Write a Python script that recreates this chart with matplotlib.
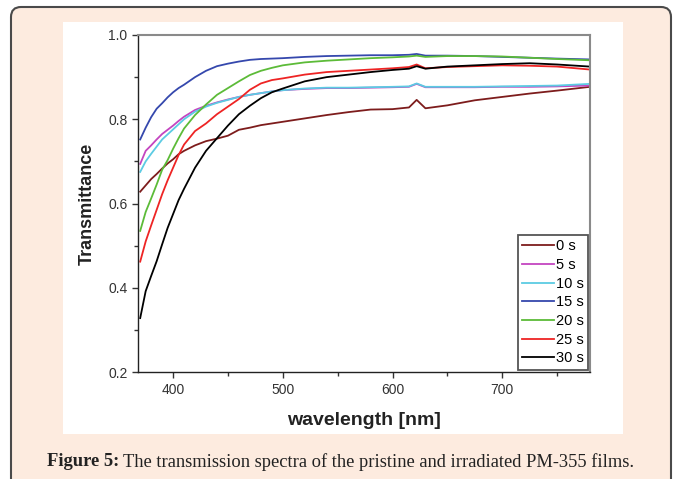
import matplotlib
matplotlib.use("Agg")
import matplotlib.pyplot as plt
from matplotlib.patches import FancyBboxPatch, Rectangle
from matplotlib.transforms import IdentityTransform
from matplotlib.ticker import MultipleLocator

# ---- data ----
wavelength = [370, 375, 380, 385, 390, 395, 400, 405, 410, 420, 430, 440, 450, 460, 470,
              480, 490, 500, 520, 540, 560, 580, 600, 615, 622, 630, 650, 675, 700, 725, 750, 780]

t0 = [0.628, 0.643, 0.658, 0.670, 0.683, 0.695, 0.705, 0.717, 0.725, 0.738, 0.748, 0.754, 0.761, 0.775, 0.780,
      0.786, 0.790, 0.794, 0.802, 0.810, 0.817, 0.823, 0.824, 0.828, 0.846, 0.826, 0.833, 0.845, 0.853, 0.861, 0.868, 0.877]
t5 = [0.694, 0.725, 0.738, 0.752, 0.765, 0.775, 0.785, 0.796, 0.806, 0.822, 0.832, 0.840, 0.847, 0.853, 0.858,
      0.862, 0.866, 0.869, 0.872, 0.874, 0.874, 0.875, 0.876, 0.877, 0.884, 0.876, 0.876, 0.876, 0.877, 0.877, 0.878, 0.880]
t10 = [0.675, 0.700, 0.718, 0.735, 0.752, 0.764, 0.776, 0.788, 0.800, 0.818, 0.830, 0.839, 0.846, 0.853, 0.858,
       0.862, 0.866, 0.869, 0.873, 0.875, 0.875, 0.876, 0.877, 0.878, 0.885, 0.877, 0.877, 0.877, 0.878, 0.879, 0.880, 0.884]
t15 = [0.752, 0.780, 0.805, 0.825, 0.838, 0.852, 0.864, 0.874, 0.882, 0.900, 0.915, 0.926, 0.932, 0.937, 0.941,
       0.943, 0.944, 0.945, 0.948, 0.950, 0.951, 0.952, 0.952, 0.953, 0.955, 0.951, 0.951, 0.950, 0.948, 0.946, 0.944, 0.942]
t20 = [0.535, 0.580, 0.612, 0.645, 0.680, 0.703, 0.730, 0.755, 0.778, 0.810, 0.835, 0.858, 0.874, 0.890, 0.905,
       0.915, 0.922, 0.928, 0.935, 0.939, 0.942, 0.945, 0.947, 0.949, 0.951, 0.948, 0.950, 0.950, 0.949, 0.946, 0.943, 0.940]
t25 = [0.462, 0.510, 0.548, 0.585, 0.622, 0.655, 0.685, 0.715, 0.740, 0.772, 0.790, 0.812, 0.830, 0.848, 0.870,
       0.885, 0.893, 0.897, 0.906, 0.912, 0.915, 0.918, 0.921, 0.924, 0.930, 0.921, 0.924, 0.926, 0.928, 0.927, 0.925, 0.918]
t30 = [0.328, 0.392, 0.428, 0.463, 0.503, 0.542, 0.575, 0.608, 0.635, 0.685, 0.725, 0.755, 0.785, 0.812, 0.832,
       0.850, 0.864, 0.873, 0.890, 0.900, 0.906, 0.912, 0.917, 0.920, 0.926, 0.920, 0.925, 0.928, 0.931, 0.933, 0.930, 0.925]

series = [t0, t5, t10, t15, t20, t25, t30]
labels = ["0 s", "5 s", "10 s", "15 s", "20 s", "25 s", "30 s"]
colors = ["#7d1c1c", "#c445c0", "#5ccbe3", "#3548ad", "#5cbb38", "#ee2424", "#000000"]

xticks = [400, 500, 600, 700]
yticks = [0.2, 0.4, 0.6, 0.8, 1.0]

# ---- figure ----
W, H = 680, 479
fig = plt.figure(figsize=(W / 100, H / 100), dpi=100)
fig.patch.set_facecolor("white")

frame = FancyBboxPatch((11, -20), 660, 472 + 20, boxstyle="round,pad=0,rounding_size=10",
                       transform=IdentityTransform(), facecolor="#fdebdf", edgecolor="#4a4a4a",
                       linewidth=1.5, zorder=0)
fig.patches.append(frame)
panel = Rectangle((63, 45), 560, 412, transform=IdentityTransform(), facecolor="white",
                  edgecolor="none", zorder=1)
fig.patches.append(panel)

ax = fig.add_axes([138 / W, 107 / H, 452 / W, 337 / H])
ax.set_zorder(2)
ax.set_facecolor("white")

for y, c, lab in zip(series, colors, labels):
    ax.plot(wavelength, y, color=c, lw=1.3, label=lab)

ax.set_xlim(368, 780)
ax.set_ylim(0.2, 1.0)
ax.set_xticks(xticks)
ax.set_yticks(yticks)
ax.set_yticklabels([f"{v:.1f}" for v in yticks])
ax.xaxis.set_minor_locator(MultipleLocator(50))
ax.yaxis.set_minor_locator(MultipleLocator(0.1))
ax.tick_params(which="both", direction="out", top=False, right=False, colors="#333333",
               labelsize=10, labelfontfamily="Liberation Sans")
ax.tick_params(which="major", length=4, width=1)
ax.tick_params(which="minor", length=3, width=1)
ax.tick_params(axis="x", pad=4)
for s in ["left", "bottom"]:
    ax.spines[s].set_color("#222222")
    ax.spines[s].set_linewidth(1.0)
for s in ["top", "right"]:
    ax.spines[s].set_color("#8a8a8a")
    ax.spines[s].set_linewidth(1.5)

ax.set_xlabel("wavelength [nm]", fontsize=14, fontweight="bold", family="Liberation Sans",
              color="#222222", labelpad=11)
ax.set_ylabel("Transmittance", fontsize=13, fontweight="bold", family="Liberation Sans",
              color="#222222", labelpad=9)

leg = ax.legend(loc="lower right", frameon=True, fancybox=False, framealpha=1,
                edgecolor="#555555", prop={"family": "Liberation Sans", "size": 10.5},
                handlelength=2.2, handletextpad=0.1, labelspacing=0.32, borderpad=0.3,
                borderaxespad=0.15)
leg.get_frame().set_linewidth(1.3)

# caption
renderer = fig.canvas.get_renderer()
t1 = fig.text(47 / W, 17 / H, "Figure 5:", fontsize=13.3, fontweight="bold",
              family="Liberation Serif", va="center", ha="left", color="#222222")
bb = t1.get_window_extent(renderer)
fig.text((bb.x1 + 4) / W, 17 / H,
         "The transmission spectra of the pristine and irradiated PM-355 films.",
         fontsize=13.3, family="Liberation Serif", va="center", ha="left", color="#222222")

fig.savefig("out.png", dpi=100)
